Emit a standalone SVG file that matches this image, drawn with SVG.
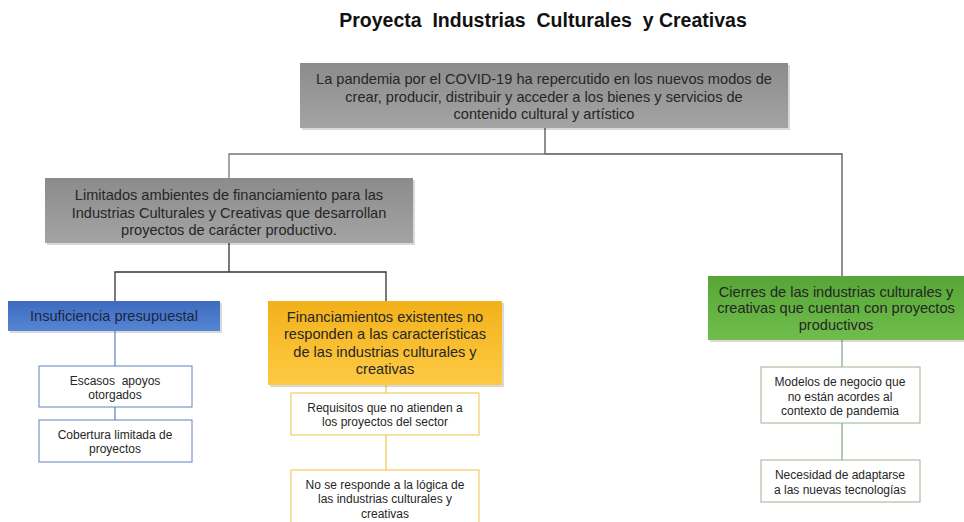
<svg xmlns="http://www.w3.org/2000/svg" width="964" height="522" viewBox="0 0 964 522">
<defs>
<linearGradient id="gGray" x1="0" y1="0" x2="0" y2="1"><stop offset="0" stop-color="#8b8b8b"/><stop offset="1" stop-color="#a4a4a4"/></linearGradient>
<linearGradient id="gBlue" x1="0" y1="0" x2="0" y2="1"><stop offset="0" stop-color="#3d6cbf"/><stop offset="1" stop-color="#5585d3"/></linearGradient>
<linearGradient id="gYellow" x1="0" y1="0" x2="0" y2="1"><stop offset="0" stop-color="#f3b11a"/><stop offset="1" stop-color="#fdca44"/></linearGradient>
<linearGradient id="gGreen" x1="0" y1="0" x2="0" y2="1"><stop offset="0" stop-color="#56a536"/><stop offset="1" stop-color="#70bd4c"/></linearGradient>
</defs>
<style>
text{font-family:"Liberation Sans",Arial,sans-serif;text-anchor:middle;fill:#262626}
.big{font-size:14.6px}
.small{font-size:12px}
.title{font-size:19.5px;font-weight:bold;fill:#111;white-space:pre}
.shadow{fill:#000;opacity:0.15}
.wb{fill:#fff;stroke-width:1}
.c{fill:none;stroke-width:1.3}
</style>
<rect width="964" height="522" fill="#fff"/>
<text class="title" x="543" y="27" xml:space="preserve">Proyecta  Industrias  Culturales  y Creativas</text>
<g id="connectors">
<path class="c" stroke="#555" d="M545 128V154H842V276"/>
<path class="c" stroke="#777" d="M545 154H229V178"/>
<path class="c" stroke="#333" d="M229 243V272H115V301M229 272H386V301"/>
<path class="c" stroke="#6d8cc6" d="M115 331V366M115 407V420"/>
<path class="c" stroke="#f0cc5a" d="M386 385V393M386 435V470"/>
<path class="c" stroke="#8fae86" d="M842 340V367M842 423V460"/>
</g>
<g id="n-top">
<rect class="shadow" x="302" y="65" width="488" height="65"/>
<rect x="300" y="63" width="488" height="65" fill="url(#gGray)"/>
<text class="big" x="544" y="84">La pandemia por el COVID-19 ha repercutido en los nuevos modos de</text>
<text class="big" x="544" y="102">crear, producir, distribuir y acceder a los bienes y servicios de</text>
<text class="big" x="544" y="119">contenido cultural y artístico</text>
</g>
<g id="n-limitados">
<rect class="shadow" x="47" y="180" width="368" height="65"/>
<rect x="45" y="178" width="368" height="65" fill="url(#gGray)"/>
<text class="big" x="229" y="200">Limitados ambientes de financiamiento para las</text>
<text class="big" x="229" y="218">Industrias Culturales y Creativas que desarrollan</text>
<text class="big" x="229" y="235">proyectos de carácter productivo.</text>
</g>
<g id="n-insuficiencia">
<rect class="shadow" x="10" y="303" width="212" height="30"/>
<rect x="8" y="301" width="212" height="30" fill="url(#gBlue)"/>
<text class="big" x="114" y="321" style="fill:#1e2540">Insuficiencia presupuestal</text>
</g>
<g id="n-escasos">
<rect class="wb" x="39" y="366" width="153" height="41" stroke="#5f82c2"/>
<text class="small" x="115" y="385" xml:space="preserve">Escasos  apoyos</text>
<text class="small" x="115" y="399">otorgados</text>
</g>
<g id="n-cobertura">
<rect class="wb" x="39" y="420" width="153" height="42" stroke="#5f82c2"/>
<text class="small" x="115" y="439">Cobertura limitada de</text>
<text class="small" x="115" y="453">proyectos</text>
</g>
<g id="n-financiamientos">
<rect class="shadow" x="270" y="303" width="234" height="84"/>
<rect x="268" y="301" width="234" height="84" fill="url(#gYellow)"/>
<text class="big" x="385" y="322">Financiamientos existentes no</text>
<text class="big" x="385" y="339">responden a las características</text>
<text class="big" x="385" y="357">de las industrias culturales y</text>
<text class="big" x="385" y="374">creativas</text>
</g>
<g id="n-requisitos">
<rect class="wb" x="291" y="393" width="188" height="42" stroke="#f2c443"/>
<text class="small" x="385" y="412">Requisitos que no atienden a</text>
<text class="small" x="385" y="426">los proyectos del sector</text>
</g>
<g id="n-nose">
<rect class="wb" x="291" y="470" width="188" height="60" stroke="#f2c443"/>
<text class="small" x="385" y="489">No se responde a la lógica de</text>
<text class="small" x="385" y="503">las industrias culturales y</text>
<text class="small" x="385" y="518">creativas</text>
</g>
<g id="n-cierres">
<rect class="shadow" x="710" y="278" width="256" height="64"/>
<rect x="708" y="276" width="256" height="64" fill="url(#gGreen)"/>
<text class="big" x="836" y="297">Cierres de las industrias culturales y</text>
<text class="big" x="836" y="313">creativas que cuentan con proyectos</text>
<text class="big" x="836" y="330">productivos</text>
</g>
<g id="n-modelos">
<rect class="wb" x="761" y="367" width="159" height="56" stroke="#9ab38f"/>
<text class="small" x="840" y="386">Modelos de negocio que</text>
<text class="small" x="840" y="401">no están acordes al</text>
<text class="small" x="840" y="415">contexto de pandemia</text>
</g>
<g id="n-necesidad">
<rect class="wb" x="761" y="460" width="159" height="42" stroke="#9ab38f"/>
<text class="small" x="840" y="479">Necesidad de adaptarse</text>
<text class="small" x="840" y="494">a las nuevas tecnologías</text>
</g>
</svg>
